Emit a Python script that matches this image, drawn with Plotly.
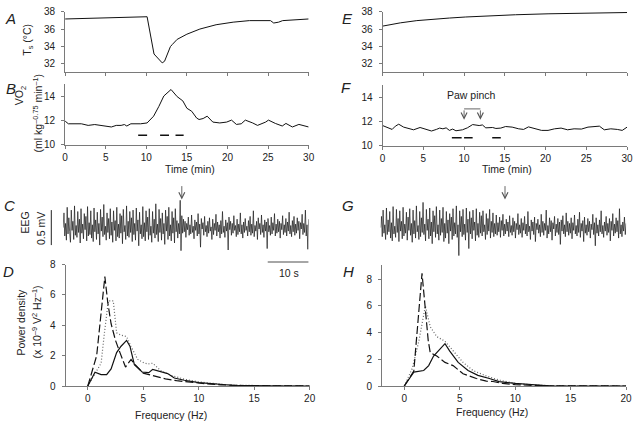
import numpy as np
import plotly.graph_objects as go

# ---------------- data ----------------
# Panel A: skin/body temperature Ts (deg C) vs time (min)
A_time = [0, 10.1, 10.95, 11.35, 11.96, 12.25, 12.65, 12.97, 13.2, 13.8, 15, 16.6, 18.6, 20.7, 22.7, 24.7, 25.3, 25.7, 26.3, 26.8, 28.8, 30]
A_temp = [37.17, 37.43, 33.1, 32.7, 32.07, 32.26, 33.1, 33.96, 34.2, 34.8, 35.4, 36.0, 36.5, 36.8, 36.98, 37.0, 36.98, 36.7, 36.8, 36.98, 37.1, 37.17]

# Panel B: VO2 vs time
B_time = [0, 0.4, 2, 2.84, 3.65, 4.46, 5.7, 6.3, 6.9, 7.3, 7.6, 8.1, 9.3, 10.1, 10.9, 11.55, 12.16, 13.05, 13.8, 14.5, 15.0, 15.6, 16.2,
          16.5, 17.0, 17.5, 18.2, 19.05, 19.9, 20.5, 21.1, 21.7, 22.2, 23.1, 23.7, 24.7, 25.05, 25.9, 26.75, 27.2, 28.0, 28.8, 29.4, 30]
B_vo2 = [11.95, 11.73, 11.73, 11.6, 11.67, 11.6, 11.47, 11.6, 11.6, 11.67, 11.55, 11.73, 11.73, 11.8, 12.35, 13.15, 14.0, 14.53, 13.95, 13.6, 13.0, 12.75, 12.2,
         12.08, 12.16, 12.35, 11.87, 11.8, 11.87, 12.03, 11.68, 11.73, 12.03, 11.8, 11.6, 11.87, 12.03, 11.76, 11.55, 11.76, 11.47, 11.68, 11.6, 11.47]
B_bar_start = [9.0, 11.7, 13.6]
B_bar_end = [10.1, 12.8, 14.6]
B_bar_level = 10.8

# Panel E: Ts vs time
E_time = [0, 2.18, 4.2, 6.2, 8.2, 10.2, 12.3, 14.3, 16.3, 20.3, 24.4, 30]
E_temp = [36.34, 36.72, 36.98, 37.17, 37.28, 37.4, 37.5, 37.58, 37.66, 37.77, 37.85, 37.92]

# Panel F: VO2 vs time
F_time = [0, 0.56, 1.17, 1.57, 1.98, 2.58, 3.19, 3.8, 4.6, 5.4, 6.0, 6.6, 7.0, 7.4, 7.8, 8.2, 8.6, 9.0, 9.8, 10.4, 11.05, 11.85, 12.25, 12.66,
          13.5, 13.9, 14.5, 15.1, 15.9, 16.7, 17.3, 17.9, 18.7, 19.5, 20.3, 21.1, 21.9, 22.7, 23.5, 24.4, 25.2, 26.0, 26.6, 27.2, 28.0, 28.8, 29.4, 30]
F_vo2 = [11.68, 11.55, 11.36, 11.63, 11.79, 11.55, 11.41, 11.33, 11.52, 11.36, 11.23, 11.36, 11.47, 11.41, 11.49, 11.28, 11.39, 11.25, 11.33, 11.49, 11.76, 11.68, 11.73, 11.49,
         11.52, 11.44, 11.47, 11.6, 11.55, 11.41, 11.36, 11.57, 11.41, 11.28, 11.28, 11.41, 11.47, 11.33, 11.41, 11.39, 11.55, 11.6, 11.63, 11.33, 11.41, 11.36, 11.28, 11.55]
F_bar_start = [8.5, 10.0, 13.45]
F_bar_end = [9.7, 11.05, 14.5]
F_bar_level = 10.67
PINCH_START, PINCH_END = 10.0, 12.0
PINCH_TOP, PINCH_TIP = 13.05, 12.15

# Panels C and G: EEG traces (microvolts), 60 s each
EEG_SPAN = 60.0
EEG_C = [0, 210, -120, 60, -180, 290, -90, 140, -60, -210, 250, -40, 90, -170, 310, -110, 30, -140, 230, -70,
         120, -220, 270, -80, 50, -160, 200, -30, 160, -190, 300, -120, 70, -100, 240, -150, 40, -200, 280, -60,
         110, -170, 220, -90, 60, -250, 260, -50, 150, -130, 330, -100, 20, -180, 210, -70, 130, -160, 270, -110,
         80, -210, 240, -40, 100, -190, 290, -130, 50, -150, 200, -80, 170, -230, 260, -60, 30, -170, 310, -120,
         90, -140, 230, -70, 140, -200, 250, -100, 60, -180, 280, -50, 110, -260, 220, -90, 40, -160, 300, -130,
         70, -190, 240, -60, 150, -170, 270, -110, 20, -210, 230, -80, 120, -150, 340, -100, 50, -200, 260, -70,
         130, -180, 210, -90, 60, -240, 250, -50, 160, -170, 290, -120, 40, -190, 230, -80, 140, -220, 270, -60,
         100, -150, 60, -90, 390, -330, 170,
         -80, 120, -60, 90, -140, 60, -30, 150, -110, 40, -90, 180, -70, 20, -160, 110, -40, 80, -120, 200,
         -90, 50, -280, 130, -20, 70, -110, 160, -60, 30, -130, 90, -80, 140, -50, 10, -170, 120, -100, 60,
         -40, 190, -120, 80, -60, 40, -150, 100, -90, 230, -70, 20, -140, 110, -50, 70, -320, 150, -30, 90,
         -110, 60, -80, 170, -40, 30, -130, 120, -100, 50, -60, 210, -90, 40, -150, 80, -70, 130, -40, 20,
         -120, 100, -60, 160, -110, 50, -80, 240, -130, 30, -50, 90, -170, 140, -20, 60, -100, 180, -70, 40,
         -140, 110, -50, 80, -300, 130, -60, 30, -110, 150, -90, 70, -40, 200, -120, 50, -80, 120, -60, 90,
         -150, 60, -30, 170, -100, 40, -70, 130, -120, 80, -50, 220, -90, 30, -130, 100, -60, 160, -110, 50,
         -80, 140, -40, 90, -160, 70, -20, 190, -100, 60, -70, 250, -120, 40, -310, 120]
EEG_G = [0, 160, -130, 250, -80, 40, -170, 280, -100, 110, -60, 230, -150, 70, -190, 300, -90, 20, -140, 260,
         -70, 130, -200, 240, -50, 90, -160, 290, -120, 50, -80, 220, -180, 150, -40, 270, -110, 60, -210, 250,
         -90, 100, -150, 310, -60, 30, -170, 230, -130, 140, -70, 360, -100, 50, -190, 260, -40, 120, -160, 280,
         -120, 80, -230, 240, -60, 170, -140, 300, -90, 40, -180, 250, -110, 130, -70, 290, -200, 60, -150, 230,
         -80, 110, -230, 200, -50, 150, -170, 270, -120, 70, -90, 310, -140, 40, -400, 240, -60, 160, -130, 260,
         -100, 50, -180, 280, -70, 120, -300, 230, -90, 140, -160, 250, -40, 80, -190, 270, -110, 60, -140, 220,
         -80, 170, -120, 240, -60, 40, -170, 200, -100, 130, -50, 260, -150, 90, -70, 210, -130, 60, -90, 180,
         -110, 70, -60, 150, -140, 100, -40, 190, -120, 50,
         -90, 120, -50, 80, -130, 170, -70, 30, -110, 140, -60, 90, -150, 60, -30, 200, -100, 40, -80, 130,
         -140, 70, -40, 160, -90, 50, -120, 230, -60, 20, -170, 110, -50, 80, -100, 150, -200, 60, -30, 120,
         -80, 40, -130, 190, -70, 90, -110, 60, -40, 250, -150, 30, -90, 140, -60, 100, -180, 70, -20, 160,
         -120, 50, -70, 130, -100, 80, -240, 110, -50, 170, -90, 40, -130, 210, -60, 90, -110, 60, -80, 140,
         -160, 70, -40, 180, -90, 30, -120, 120, -70, 220, -140, 60, -50, 100, -200, 150, -80, 40, -110, 130,
         -60, 90, -150, 50, -30, 190, -100, 70, -260, 140, -80, 40, -120, 110, -60, 240, -90, 30, -140, 80,
         -50, 160, -110, 60, -70, 130, -190, 90, -40, 200, -120, 50, -80, 140, -60, 100, -150, 270, -90, 40,
         -130, 80, -50, 150, -100, 60]
EEG_EVENT_C = 29.0
EEG_EVENT_G = 30.4
EEG_SCALE_UV = 500      # 0.5 mV vertical bar
TIME_SCALE_S = 10       # 10 s horizontal bar

# Panel D: power spectra
D_f_solid = [0, 0.65, 1.2, 1.7, 2.1, 2.6, 3.0, 3.5, 3.8, 4.2, 4.9, 5.5, 5.85, 6.6, 7.2, 7.8, 8.7, 10, 11.3, 13, 16, 20]
D_solid = [0, 0.91, 0.75, 0.75, 1.13, 2.2, 2.62, 3.0, 2.62, 1.4, 0.92, 0.88, 1.1, 0.92, 0.82, 0.53, 0.38, 0.22, 0.14, 0.05, 0.01, 0]
D_f_dash = [0, 0.8, 1.54, 1.8, 2.1, 2.5, 2.9, 3.4, 3.9, 4.2, 5.0, 6.0, 7.0, 8.0, 9.0, 10.5, 12, 14, 20]
D_dash = [0, 2.0, 7.2, 5.5, 4.1, 3.0, 2.2, 1.25, 1.75, 1.45, 0.85, 0.65, 0.47, 0.35, 0.26, 0.16, 0.08, 0.03, 0]
D_f_dot = [0, 0.6, 1.2, 1.5, 1.85, 2.3, 2.6, 3.0, 3.5, 3.9, 4.5, 5.0, 5.4, 5.85, 6.6, 7.5, 8.7, 10, 11.5, 13, 20]
D_dot = [0, 0.75, 1.5, 3.5, 5.6, 5.6, 3.5, 3.35, 3.25, 2.6, 1.75, 1.55, 1.45, 1.5, 1.0, 0.7, 0.45, 0.27, 0.14, 0.05, 0]

# Panel H: power spectra
H_f_solid = [0, 0.86, 1.75, 2.2, 2.64, 3.08, 3.67, 4.1, 4.86, 5.75, 6.64, 7.67, 8.56, 10, 11.5, 13, 20]
H_solid = [0, 1.04, 1.16, 1.53, 2.25, 2.62, 3.17, 2.62, 1.77, 1.16, 0.8, 0.56, 0.33, 0.2, 0.09, 0.02, 0]
H_f_dash = [0, 0.86, 1.6, 2.16, 2.34, 2.93, 3.67, 4.4, 5.3, 6.5, 7.4, 8.0, 8.86, 10, 11.5, 13, 20]
H_dash = [0, 1.12, 8.44, 3.4, 2.5, 2.25, 1.77, 1.53, 0.92, 0.56, 0.36, 0.34, 0.2, 0.1, 0.05, 0.02, 0]
H_f_dot = [0, 0.71, 1.3, 1.9, 2.34, 2.93, 3.67, 4.56, 5.3, 6.2, 7.4, 8.56, 10, 11.5, 13, 20]
H_dot = [0, 1.29, 3.3, 6.0, 4.44, 3.7, 3.35, 2.5, 1.77, 1.16, 0.75, 0.44, 0.2, 0.09, 0.03, 0]

TIME_TICKS = [0, 5, 10, 15, 20, 25, 30]
TEMP_TICKS = [32, 34, 36, 38]
VO2_TICKS = [10, 12, 14]
FREQ_TICKS = [0, 5, 10, 15, 20]
PD_TICKS = [0, 2, 4, 6, 8]

# ---------------- layout helpers ----------------
W, H = 640, 427
FONT = "Liberation Sans, Arial, sans-serif"
AX = "#7a7a7a"


def fx(p):
    return p / W


def fy(p):
    return 1 - p / H


def bars(starts, ends, level):
    xs, ys = [], []
    for s, e in zip(starts, ends):
        xs += [s, e, None]
        ys += [level, level, None]
    return xs, ys


fig = go.Figure()
line_k = dict(color="#111", width=1)

fig.add_trace(go.Scatter(x=A_time, y=A_temp, mode="lines", line=line_k, xaxis="x", yaxis="y"))
fig.add_trace(go.Scatter(x=B_time, y=B_vo2, mode="lines", line=line_k, xaxis="x2", yaxis="y2"))
bx, by = bars(B_bar_start, B_bar_end, B_bar_level)
fig.add_trace(go.Scatter(x=bx, y=by, mode="lines", line=dict(color="#111", width=1.5), xaxis="x2", yaxis="y2"))
fig.add_trace(go.Scatter(x=E_time, y=E_temp, mode="lines", line=line_k, xaxis="x3", yaxis="y3"))
fig.add_trace(go.Scatter(x=F_time, y=F_vo2, mode="lines", line=line_k, xaxis="x4", yaxis="y4"))
fx_, fy_ = bars(F_bar_start, F_bar_end, F_bar_level)
fig.add_trace(go.Scatter(x=fx_, y=fy_, mode="lines", line=dict(color="#111", width=1.5), xaxis="x4", yaxis="y4"))

tC = np.linspace(0, EEG_SPAN, len(EEG_C))
tG = np.linspace(0, EEG_SPAN, len(EEG_G))
eeg_line = dict(color="#1a1a1a", width=0.7)
fig.add_trace(go.Scatter(x=tC, y=EEG_C, mode="lines", line=eeg_line, xaxis="x5", yaxis="y5"))
fig.add_trace(go.Scatter(x=tG, y=EEG_G, mode="lines", line=eeg_line, xaxis="x6", yaxis="y6"))

solid = dict(color="#111", width=1.2)
dashed = dict(color="#111", width=1.2, dash="8px,3px")
dotted = dict(color="#666", width=1.2, dash="1px,2px")
fig.add_trace(go.Scatter(x=D_f_dot, y=D_dot, mode="lines", line=dotted, xaxis="x7", yaxis="y7"))
fig.add_trace(go.Scatter(x=D_f_dash, y=D_dash, mode="lines", line=dashed, xaxis="x7", yaxis="y7"))
fig.add_trace(go.Scatter(x=D_f_solid, y=D_solid, mode="lines", line=solid, xaxis="x7", yaxis="y7"))
fig.add_trace(go.Scatter(x=H_f_dot, y=H_dot, mode="lines", line=dotted, xaxis="x8", yaxis="y8"))
fig.add_trace(go.Scatter(x=H_f_dash, y=H_dash, mode="lines", line=dashed, xaxis="x8", yaxis="y8"))
fig.add_trace(go.Scatter(x=H_f_solid, y=H_solid, mode="lines", line=solid, xaxis="x8", yaxis="y8"))

tickfont = dict(family=FONT, size=10, color="#222")


def xax(domain, anchor, rng, ticks=None, labels=True):
    d = dict(domain=domain, anchor=anchor, range=rng, showline=True, linecolor=AX, linewidth=1,
             showgrid=False, zeroline=False, tickfont=tickfont, fixedrange=True)
    if ticks is not None:
        d.update(tickmode="array", tickvals=ticks, ticks="outside", ticklen=3, tickcolor=AX,
                 showticklabels=labels)
    return d


def yax(domain, anchor, rng, ticks):
    return dict(domain=domain, anchor=anchor, range=rng, showline=True, linecolor=AX, linewidth=1,
                showgrid=False, zeroline=False, tickfont=tickfont, tickmode="array", tickvals=ticks,
                ticks="outside", ticklen=3, tickcolor=AX, ticklabelstandoff=4, fixedrange=True)


left_ts = [fx(63), fx(310)]
right_ts = [fx(385), fx(633)]
hidden = dict(visible=False, fixedrange=True)

fig.update_layout(
    width=W, height=H, autosize=False, showlegend=False,
    margin=dict(l=0, r=0, t=0, b=0),
    paper_bgcolor="white", plot_bgcolor="white",
    font=dict(family=FONT, size=10, color="#222"),
    hovermode=False,
    xaxis=xax(left_ts, "y", [0, 30], TIME_TICKS, labels=False),
    yaxis=yax([fy(68), fy(6)], "x", [31, 38], TEMP_TICKS),
    xaxis2=xax(left_ts, "y2", [0, 30], TIME_TICKS),
    yaxis2=yax([fy(143), fy(80)], "x2", [10, 15], VO2_TICKS),
    xaxis3=xax(right_ts, "y3", [0, 30], TIME_TICKS, labels=False),
    yaxis3=yax([fy(68), fy(6)], "x3", [31, 38], TEMP_TICKS),
    xaxis4=xax(right_ts, "y4", [0, 30], TIME_TICKS),
    yaxis4=yax([fy(144), fy(81.5)], "x4", [10, 15], VO2_TICKS),
    xaxis5=dict(domain=[fx(61), fx(310)], anchor="y5", range=[0, EEG_SPAN], **hidden),
    yaxis5=dict(domain=[fy(267.6), fy(188.4)], anchor="x5", range=[-550, 550], **hidden),
    xaxis6=dict(domain=[fx(383), fx(632)], anchor="y6", range=[0, EEG_SPAN], **hidden),
    yaxis6=dict(domain=[fy(267.6), fy(188.4)], anchor="x6", range=[-550, 550], **hidden),
    xaxis7=xax([fx(63.5), fx(311)], "y7", [-2, 20], FREQ_TICKS),
    yaxis7=yax([fy(391), fy(266)], "x7", [0, 8], PD_TICKS),
    xaxis8=xax([fx(384.5), fx(632)], "y8", [-2, 20], FREQ_TICKS),
    yaxis8=yax([fy(391), fy(266)], "x8", [0, 9.1], PD_TICKS),
)

ann = []


def paper_text(x, y, text, size=10.5, angle=0, **kw):
    ann.append(dict(x=fx(x), y=fy(y), xref="paper", yref="paper", text=text, showarrow=False,
                    textangle=angle, font=dict(family=FONT, size=size, color="#222"),
                    xanchor="center", yanchor="middle", **kw))


# panel letters
for letter, (x, y) in {"A": (8, 13), "B": (8, 85), "C": (7, 205), "D": (6, 273),
                       "E": (349, 13), "F": (348, 84), "G": (350, 205), "H": (350, 273)}.items():
    paper_text(x, y, "<i>%s</i>" % letter, size=15)

# axis titles
paper_text(25, 35, "T<sub>s</sub> (°C)", angle=-90)
paper_text(18, 92, "VO<sub>2</sub>", angle=-90)
paper_text(35, 110, "(ml kg<sup>–0.75</sup> min<sup>–1</sup>)", angle=-90)
paper_text(190, 168, "Time (min)")
paper_text(511, 168, "Time (min)")
paper_text(22, 223, "EEG", angle=-90)
paper_text(38, 229, "0.5 mV", angle=-90)
paper_text(290, 275, "10 s")
paper_text(18, 325, "Power density", angle=-90)
paper_text(34, 325, "(x 10<sup>–9</sup> V<sup>2</sup> Hz<sup>–1</sup>)", angle=-90)
paper_text(170, 421, "Frequency (Hz)")
paper_text(496, 418, "Frequency (Hz)")

# event arrows above EEG traces
for xr, yr, t in (("x5", "y5", EEG_EVENT_C), ("x6", "y6", EEG_EVENT_G)):
    ann.append(dict(x=t, y=400, xref=xr, yref=yr, ax=0, ay=-15, showarrow=True, arrowhead=5,
                    arrowsize=1.3, arrowwidth=0.9, arrowcolor="#555", text=""))

# paw pinch bracket arrows
paper_text(475, 92, "Paw pinch")
for t in (PINCH_START, PINCH_END):
    ann.append(dict(x=t, y=PINCH_TIP, xref="x4", yref="y4", ax=t, ay=PINCH_TOP, axref="x4", ayref="y4",
                    showarrow=True, arrowhead=5, arrowsize=1.3, arrowwidth=0.9, arrowcolor="#555", text=""))

shapes = [
    dict(type="line", xref="x4", yref="y4", x0=PINCH_START, x1=PINCH_END, y0=PINCH_TOP, y1=PINCH_TOP,
         line=dict(color="#555", width=0.9)),
    # vertical 0.5 mV scale bar
    dict(type="line", xref="paper", yref="y5", x0=fx(49), x1=fx(49), y0=-EEG_SCALE_UV / 2, y1=EEG_SCALE_UV / 2,
         line=dict(color="#222", width=1)),
    # horizontal 10 s scale bar
    dict(type="line", xref="x5", yref="y5", x0=EEG_SPAN - TIME_SCALE_S, x1=EEG_SPAN, y0=-490, y1=-490,
         line=dict(color="#888", width=1.5)),
]

fig.update_layout(annotations=ann, shapes=shapes)
fig.write_html("out.html", config={"displayModeBar": False, "staticPlot": True},
               post_script="document.body.style.margin='0';document.body.style.padding='0';")
